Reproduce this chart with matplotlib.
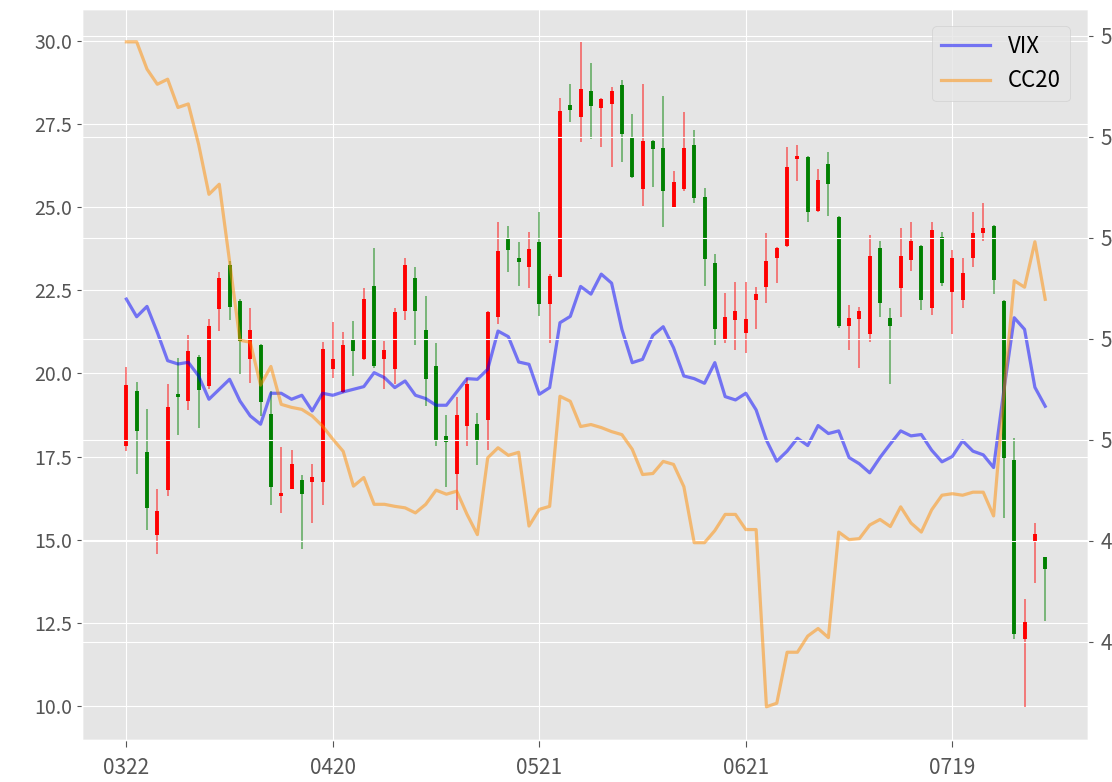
import numpy as np
import matplotlib
matplotlib.use('Agg')
from matplotlib import pyplot as plt

plt.style.use('ggplot')
plt.rcParams['font.family'] = ['Noto Sans CJK SC', 'DejaVu Sans']

# K线数据 (开, 高, 低, 收)
opens = [17.82, 19.47, 17.65, 15.13, 16.49, 19.37, 19.17, 20.50, 19.62, 21.93,
         23.26, 22.16, 20.43, 20.86, 18.77, 16.31, 16.53, 16.79, 16.74, 16.74,
         20.14, 19.44, 21.04, 20.42, 22.61, 20.42, 20.14, 21.88, 22.86, 21.29,
         20.22, 18.11, 16.96, 18.41, 18.49, 18.59, 21.68, 24.06, 23.46, 23.18,
         23.95, 22.08, 22.90, 28.05, 27.70, 28.48, 27.98, 28.08, 28.65, 27.08,
         25.54, 26.98, 26.77, 25.01, 25.54, 26.87, 25.31, 23.30, 20.99, 21.60,
         21.22, 22.20, 22.59, 23.47, 23.82, 26.45, 26.51, 24.87, 26.29, 24.69,
         21.41, 21.63, 21.19, 23.77, 21.66, 22.57, 23.41, 23.83, 21.96, 24.10,
         22.43, 22.21, 23.47, 24.21, 24.43, 22.18, 17.39, 12.03, 14.95, 14.49]
highs = [20.18, 19.74, 18.92, 16.51, 19.69, 20.46, 21.15, 20.55, 21.63, 23.04,
         23.36, 22.23, 21.95, 20.88, 19.47, 17.80, 17.70, 16.93, 17.26, 20.93,
         21.53, 21.24, 21.58, 22.55, 23.78, 20.97, 21.95, 23.45, 23.18, 22.33,
         20.92, 18.76, 19.30, 19.87, 18.81, 21.88, 24.56, 24.44, 23.95, 24.24,
         24.86, 22.98, 28.28, 28.70, 29.96, 29.31, 28.28, 28.60, 28.82, 27.80,
         28.70, 27.02, 28.32, 26.07, 27.85, 27.30, 25.57, 23.58, 22.40, 22.73,
         22.73, 22.60, 24.21, 23.80, 26.81, 26.86, 26.53, 26.15, 26.64, 24.73,
         22.04, 21.99, 24.15, 23.99, 21.96, 24.36, 24.54, 23.85, 24.54, 24.26,
         23.71, 23.45, 24.84, 25.13, 24.45, 22.21, 18.05, 13.23, 15.50, 14.49]
lows = [17.67, 16.96, 15.29, 14.58, 16.31, 18.15, 18.90, 18.37, 19.54, 21.28,
        21.61, 19.97, 19.72, 18.72, 16.03, 15.81, 16.51, 14.73, 15.49, 16.03,
        19.87, 19.42, 19.92, 20.40, 20.17, 19.54, 19.67, 21.61, 20.84, 19.02,
        17.81, 16.59, 15.88, 17.81, 17.23, 17.71, 21.48, 23.05, 22.61, 22.55,
        21.71, 20.90, 22.88, 27.55, 26.95, 27.05, 26.80, 26.19, 26.34, 25.87,
        25.04, 25.59, 24.41, 24.99, 25.49, 25.11, 22.63, 20.85, 20.92, 20.69,
        20.62, 21.32, 22.10, 22.70, 23.80, 25.79, 24.56, 24.84, 24.73, 21.36,
        20.71, 20.16, 20.93, 21.69, 19.69, 21.69, 23.08, 21.91, 21.74, 22.61,
        21.19, 21.96, 23.19, 23.99, 22.37, 15.64, 12.03, 9.98, 13.70, 12.57]
closes = [19.64, 18.27, 15.94, 15.86, 18.99, 19.30, 20.66, 19.50, 21.41, 22.87,
          21.98, 20.96, 21.31, 19.14, 16.58, 16.41, 17.26, 16.36, 16.88, 20.73,
          20.44, 20.84, 20.67, 22.23, 20.22, 20.70, 21.85, 23.25, 21.88, 19.82,
          17.99, 17.93, 18.76, 19.69, 17.99, 21.83, 23.68, 23.71, 23.33, 23.73,
          22.08, 22.93, 27.88, 27.92, 28.55, 28.02, 28.25, 28.48, 27.18, 25.89,
          26.98, 26.75, 25.49, 25.74, 26.77, 25.27, 23.43, 21.32, 21.68, 21.86,
          21.63, 22.38, 23.38, 23.77, 26.20, 26.53, 24.84, 25.82, 25.69, 21.41,
          21.66, 21.88, 23.52, 22.10, 21.41, 23.52, 23.99, 22.21, 24.32, 22.70,
          23.45, 23.01, 24.21, 24.36, 22.79, 17.47, 12.17, 12.52, 15.17, 14.11]

vix = [22.23, 21.70, 22.01, 21.23, 20.38, 20.28, 20.33, 19.92, 19.22, 19.52,
       19.82, 19.17, 18.72, 18.47, 19.40, 19.40, 19.22, 19.34, 18.87, 19.40,
       19.34, 19.44, 19.52, 19.60, 20.02, 19.87, 19.57, 19.77, 19.34, 19.24,
       19.04, 19.04, 19.44, 19.84, 19.82, 20.12, 21.27, 21.10, 20.34, 20.27,
       19.37, 19.57, 21.52, 21.71, 22.61, 22.38, 22.98, 22.71, 21.32, 20.32,
       20.42, 21.14, 21.40, 20.77, 19.92, 19.84, 19.70, 20.32, 19.30, 19.20,
       19.40, 18.90, 17.99, 17.36, 17.66, 18.05, 17.83, 18.43, 18.19, 18.27,
       17.47, 17.28, 17.01, 17.47, 17.88, 18.27, 18.12, 18.16, 17.69, 17.34,
       17.50, 17.97, 17.66, 17.55, 17.17, 19.50, 21.67, 21.32, 19.58, 19.01]

cc20 = [57.88, 57.88, 57.34, 57.04, 57.14, 56.58, 56.65, 55.85, 54.86, 55.06,
        53.53, 51.97, 51.93, 51.08, 51.45, 50.70, 50.64, 50.60, 50.47, 50.27,
        50.01, 49.77, 49.08, 49.25, 48.72, 48.72, 48.68, 48.65, 48.55, 48.72,
        49.00, 48.92, 48.98, 48.52, 48.12, 49.64, 49.84, 49.69, 49.75, 48.29,
        48.62, 48.68, 50.86, 50.76, 50.26, 50.30, 50.24, 50.16, 50.10, 49.81,
        49.31, 49.33, 49.57, 49.51, 49.07, 47.96, 47.96, 48.20, 48.52, 48.52,
        48.22, 48.22, 44.71, 44.78, 45.79, 45.79, 46.11, 46.26, 46.08, 48.17,
        48.02, 48.04, 48.31, 48.42, 48.28, 48.67, 48.35, 48.17, 48.61, 48.90,
        48.93, 48.90, 48.96, 48.96, 48.49, 50.92, 53.15, 53.02, 53.92, 52.78]

tick_pos = [0, 20, 40, 60, 80]
tick_labels = ['0322', '0420', '0521', '0621', '0719']

fig, ax = plt.subplots(figsize=(11.12, 7.82), dpi=100)
fig.subplots_adjust(left=0.0737, right=0.978, bottom=0.0537, top=0.989)

x = np.arange(len(opens))
o = np.array(opens)
c = np.array(closes)
cols = np.where(c >= o, 'red', 'green')

# 影线 + 实体
ax.vlines(x, lows, highs, colors=cols, linewidth=1.1, alpha=0.6)
ax.vlines(x, o, c, colors=cols, linewidth=2.8)

l1, = ax.plot(x, vix, color='blue', alpha=0.5, linewidth=2.3, label='VIX')
ax2 = ax.twinx()
l2, = ax2.plot(x, cc20, color='darkorange', alpha=0.5, linewidth=2.3, label='CC20')

ax.set_xticks(tick_pos)
ax.set_xticklabels(tick_labels)
ax.set_xlim(-4.3, 93.1)
ax2.set_yticks([46, 48, 50, 52, 54, 56, 58])

ax.tick_params(axis='x', labelsize=15, pad=7, length=5)
ax.tick_params(axis='y', labelsize=14)
ax2.tick_params(axis='y', labelsize=15, pad=6)

ax2.legend([l1, l2], ['VIX', 'CC20'], loc='upper right', fontsize=16,
           handlelength=2.2, borderaxespad=0.8)

fig.savefig('out.png', dpi=100)
